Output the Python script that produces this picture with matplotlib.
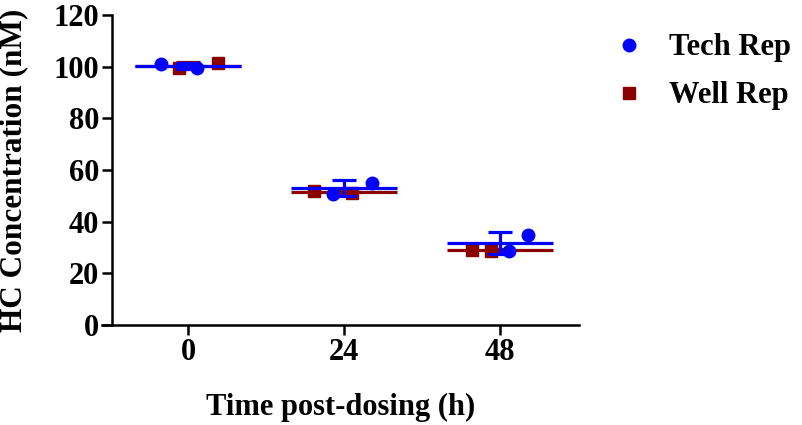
import numpy as np
import matplotlib
matplotlib.use("Agg")
import matplotlib.pyplot as plt
from matplotlib.lines import Line2D

plt.rcParams['font.family'] = ['Liberation Serif', 'DejaVu Serif']
plt.rcParams['font.weight'] = 'bold'

# time points (categories) and replicate values
times = ['0', '24', '48']
tech_rep = [[101.2, 99.6], [50.8, 55.1], [28.8, 34.7]]
well_rep = [[99.4, 101.4], [52.0, 51.2], [29.2, 28.8]]

# horizontal spread of points inside each group (Prism-like scatter)
tech_spread = [[-0.17, 0.06], [-0.07, 0.18], [0.06, 0.18]]
well_spread = [[-0.06, 0.19], [-0.19, 0.05], [-0.18, -0.06]]

blue = '#0000FF'
red = '#8B0000'

fig = plt.figure(figsize=(8.03, 4.25), dpi=100)
ax = fig.add_axes([102/803, 100/425, 477/803, 310/425])

def draw_series(vals, spread, color, marker, ms, z):
    for i, v in enumerate(vals):
        v = np.array(v)
        m = v.mean()
        sd = v.std(ddof=1)
        # mean line
        ax.plot([i - 0.34, i + 0.34], [m, m], color=color, lw=2.3, zorder=z,
                solid_capstyle='butt')
        # SD error bar
        ax.errorbar(i, m, yerr=sd, color=color, lw=2.3, capsize=8.5,
                    capthick=2.3, zorder=z)
        ax.plot(np.array(spread[i]) + i, v, linestyle='none', marker=marker,
                ms=ms, color=color, mec=color, zorder=z + 0.5)

draw_series(well_rep, well_spread, red, 's', 8.5, 2)
draw_series(tech_rep, tech_spread, blue, 'o', 9, 4)

ax.set_xlim(-0.551, 2.506)
ax.set_ylim(0, 120)
ax.set_xticks(range(len(times)))
ax.set_xticklabels(times)
ax.set_yticks(range(0, 121, 20))

for s in ['top', 'right']:
    ax.spines[s].set_visible(False)
ax.spines['left'].set_position(('data', -0.487))
for s in ['left', 'bottom']:
    ax.spines[s].set_linewidth(1.8)
ax.tick_params(width=1.8, length=7, labelsize=22, pad=2)
for lab in ax.get_xticklabels() + ax.get_yticklabels():
    lab.set_fontweight('bold')

ax.set_xlabel('Time post-dosing (h)', fontsize=22, fontweight='bold')
ax.xaxis.set_label_coords((341 - 102) / 477, -(407 - 325) / 310)
ax.set_ylabel('HC Concentration (nM)', fontsize=22.5, fontweight='bold')
ax.yaxis.set_label_coords((14 - 102) / 477, 0.5)
ax.yaxis.label.set_verticalalignment('center')
ax.xaxis.label.set_verticalalignment('center')

handles = [
    Line2D([], [], linestyle='none', marker='o', ms=9, color=blue),
    Line2D([], [], linestyle='none', marker='s', ms=8.5, color=red),
]
fig.legend(handles, ['Tech Rep', 'Well Rep'], loc='upper left',
           bbox_to_anchor=(583/803, 1 - 6/425), frameon=False,
           prop={'size': 22, 'weight': 'bold'}, handletextpad=0.7,
           labelspacing=0.62, handlelength=1.2)

fig.savefig('out.png', dpi=100)
